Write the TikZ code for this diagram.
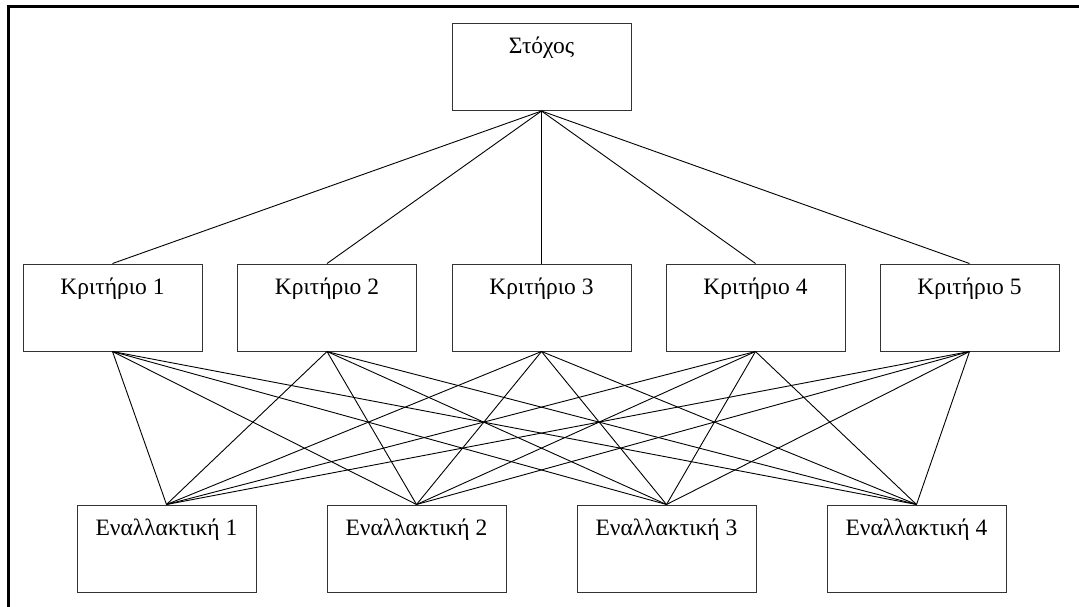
\documentclass[tikz,border=0pt]{standalone}
\usepackage{fontspec}
\setmainfont{Liberation Serif}
\begin{document}
\begin{tikzpicture}[x=1pt,y=-1pt,
  box/.style={draw=black!80, line width=1pt, rectangle, minimum width=179pt,
    inner sep=0pt, text height=30pt, text depth=57pt, font=\fontsize{23.5}{26}\selectfont},
  link/.style={draw=black, line width=0.9pt},
  frame/.style={draw=black, line width=3pt}]
\useasboundingbox (0,0) rectangle (1079,606);
\coordinate (f1) at (8,607);
\coordinate (f2) at (8,6);
\coordinate (f3) at (1080,6);
\draw[frame] (f1) -- (f2) -- (f3);
\node[box] (g) at (541.5,67) {Στόχος};
\node[box] (c1) at (112.5,307.5) {Κριτήριο 1};
\node[box] (c2) at (327,307.5) {Κριτήριο 2};
\node[box] (c3) at (541.5,307.5) {Κριτήριο 3};
\node[box] (c4) at (755.5,307.5) {Κριτήριο 4};
\node[box] (c5) at (969.5,307.5) {Κριτήριο 5};
\node[box] (a1) at (166.5,548.5) {Εναλλακτική 1};
\node[box] (a2) at (416.5,548.5) {Εναλλακτική 2};
\node[box] (a3) at (666.5,548.5) {Εναλλακτική 3};
\node[box] (a4) at (916.5,548.5) {Εναλλακτική 4};
\foreach \c in {c1,c2,c3,c4,c5} {
  \draw[link] (g.south) -- (\c.north);
  \foreach \a in {a1,a2,a3,a4} {
    \draw[link] (\c.south) -- (\a.north);
  }
}
\end{tikzpicture}
\end{document}
